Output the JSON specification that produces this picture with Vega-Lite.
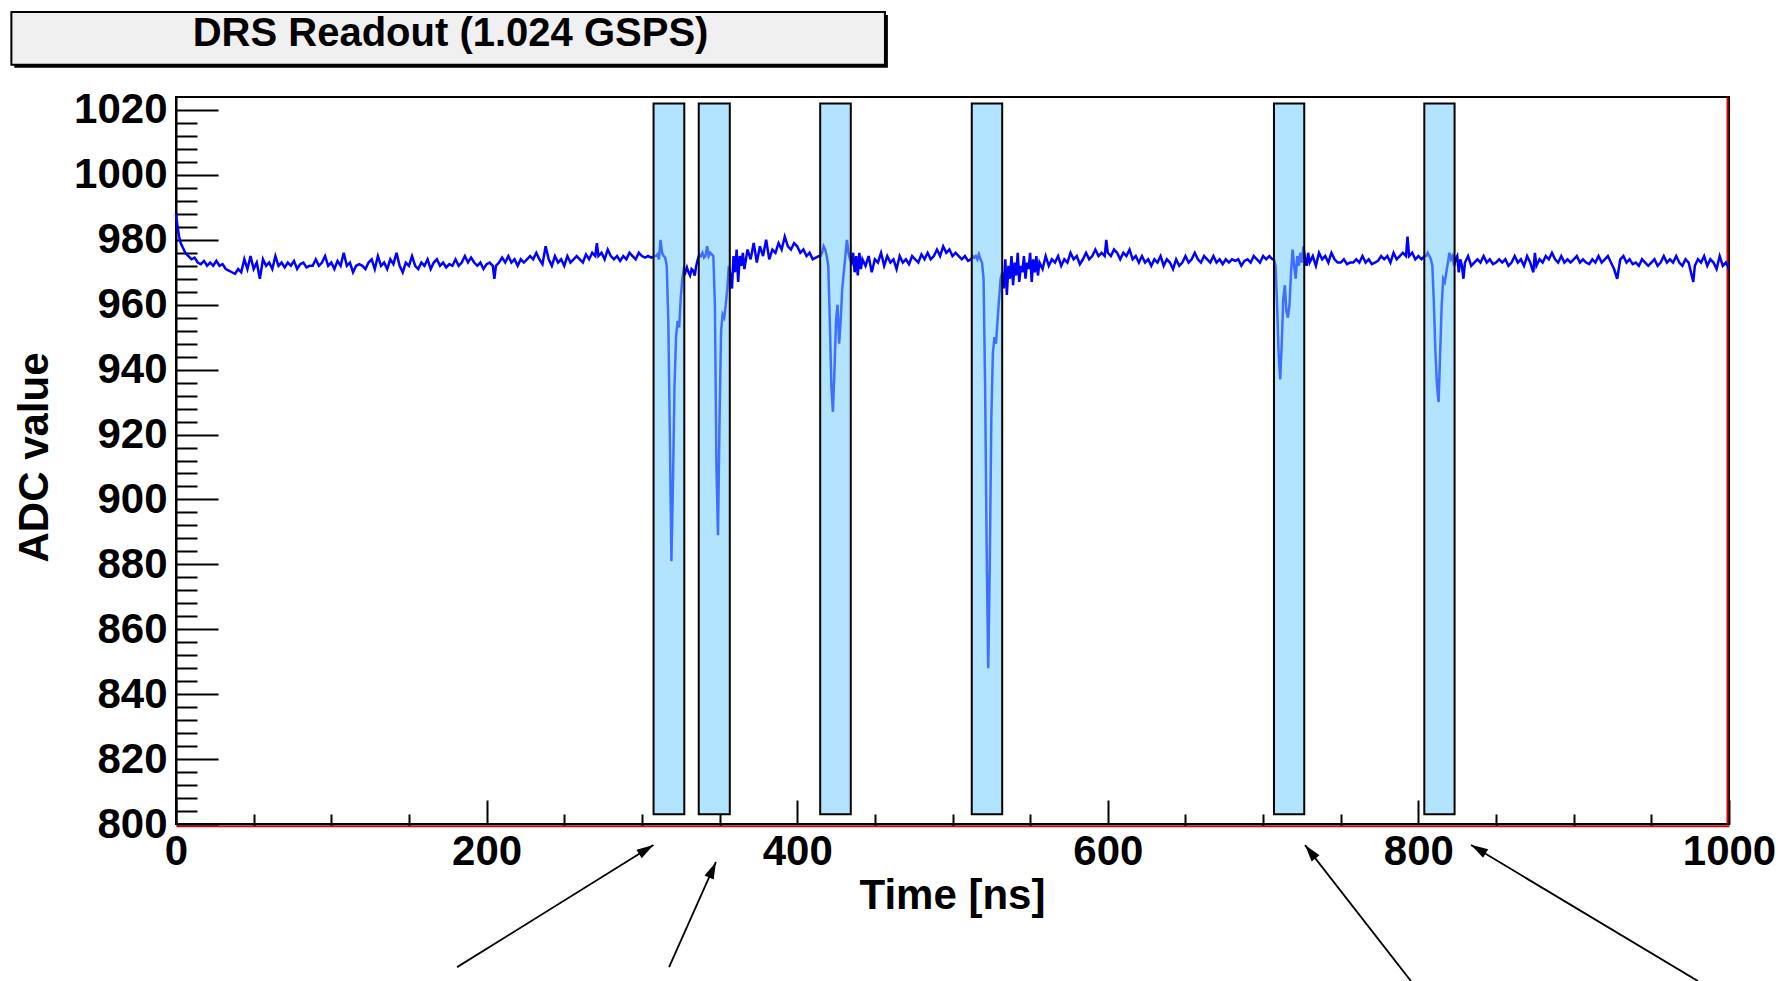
{
  "$schema": "https://vega.github.io/schema/vega-lite/v6.json",
  "autosize": {"type": "none"},
  "padding": {"left": 176, "top": 97, "right": 50, "bottom": 157},
  "width": 1553,
  "height": 727,
  "background": "white",
  "config": {
    "view": {"stroke": "black", "strokeWidth": 2},
    "axis": {"grid": false, "labelFont": "Liberation Sans", "titleFont": "Liberation Sans", "labelColor": "black", "titleColor": "black", "tickColor": "black", "domainColor": "black", "zindex": 1}
  },
  "resolve": {"axis": {"x": "independent", "y": "independent"}},
  "layer": [
    {
      "data": {"values": [{"box": "title"}]},
      "mark": {"type": "rect", "fill": "black"},
      "encoding": {
        "x": {"datum": -104.1, "type": "quantitative", "scale": {"domain": [0, 1000], "nice": false, "zero": false}, "axis": null},
        "x2": {"datum": 458.4},
        "y": {"datum": 1033.0, "type": "quantitative", "scale": {"domain": [800, 1024], "nice": false, "zero": false}, "axis": null},
        "y2": {"datum": 1049.3}
      }
    },
    {
      "data": {"values": [{"box": "title"}]},
      "mark": {"type": "rect", "fill": "#f0f0f0", "stroke": "black", "strokeWidth": 2},
      "encoding": {
        "x": {"datum": -106, "type": "quantitative", "scale": {"domain": [0, 1000], "nice": false, "zero": false}, "axis": null},
        "x2": {"datum": 456.5},
        "y": {"datum": 1033.9, "type": "quantitative", "scale": {"domain": [800, 1024], "nice": false, "zero": false}, "axis": null},
        "y2": {"datum": 1050.2}
      }
    },
    {
      "data": {"values": [{"label": "DRS Readout (1.024 GSPS)"}]},
      "mark": {"type": "text", "font": "Liberation Sans", "fontSize": 40, "fontWeight": "bold", "color": "black", "align": "center", "baseline": "alphabetic"},
      "encoding": {
        "text": {"field": "label", "type": "nominal"},
        "x": {"datum": 176.8, "type": "quantitative", "scale": {"domain": [0, 1000], "nice": false, "zero": false}, "axis": null},
        "y": {"datum": 1039.8, "type": "quantitative", "scale": {"domain": [800, 1024], "nice": false, "zero": false}, "axis": null}
      }
    },
    {
      "data": {"values": [
{"t":0,"v":988},{"t":1,"v":984},{"t":2,"v":981},{"t":3,"v":979},{"t":4,"v":978},{"t":5,"v":977},{"t":6,"v":976},{"t":8,"v":975},{"t":10,"v":974},{"t":12,"v":974.5},{"t":14,"v":973},{"t":16,"v":972.5},{"t":18,"v":973.5},{"t":20,"v":972},{"t":22,"v":973},{"t":24,"v":972},{"t":26,"v":973.5},{"t":28,"v":972},{"t":30,"v":972.5},{"t":32,"v":971},{"t":34,"v":970.5},{"t":36,"v":970},{"t":38,"v":969.5},{"t":40,"v":971},{"t":42,"v":970},{"t":44,"v":974},{"t":46,"v":971},{"t":48,"v":975},{"t":50,"v":971},{"t":52,"v":973},{"t":54,"v":968},{"t":56,"v":974},{"t":58,"v":972},{"t":60,"v":973},{"t":62,"v":971},{"t":64,"v":975},{"t":66,"v":972},{"t":68,"v":973},{"t":70,"v":971.5},{"t":72,"v":973},{"t":74,"v":972},{"t":76,"v":973.5},{"t":78,"v":971},{"t":80,"v":972.5},{"t":82,"v":973},{"t":84,"v":971.5},{"t":86,"v":972},{"t":88,"v":972},{"t":90,"v":974},{"t":92,"v":972},{"t":94,"v":973},{"t":96,"v":975},{"t":98,"v":972},{"t":100,"v":973},{"t":102,"v":971},{"t":104,"v":973.5},{"t":106,"v":972},{"t":108,"v":976},{"t":110,"v":972},{"t":112,"v":973},{"t":114,"v":970},{"t":116,"v":972},{"t":118,"v":972.5},{"t":120,"v":972},{"t":122,"v":971},{"t":124,"v":973},{"t":126,"v":974},{"t":128,"v":971},{"t":130,"v":975},{"t":132,"v":972},{"t":134,"v":973},{"t":136,"v":971},{"t":138,"v":974},{"t":140,"v":972.5},{"t":142,"v":976},{"t":144,"v":972},{"t":146,"v":970},{"t":148,"v":973},{"t":150,"v":972},{"t":152,"v":975},{"t":154,"v":972},{"t":156,"v":971},{"t":158,"v":973},{"t":160,"v":972},{"t":162,"v":974},{"t":164,"v":971},{"t":166,"v":973},{"t":168,"v":974},{"t":170,"v":972},{"t":172,"v":973},{"t":174,"v":971.5},{"t":176,"v":972.5},{"t":178,"v":972},{"t":180,"v":974},{"t":182,"v":972},{"t":184,"v":973},{"t":186,"v":975},{"t":188,"v":973},{"t":190,"v":974.5},{"t":192,"v":973},{"t":194,"v":972},{"t":196,"v":973},{"t":198,"v":971},{"t":200,"v":972.5},{"t":202,"v":973},{"t":204,"v":972},{"t":205,"v":968},{"t":206,"v":972},{"t":208,"v":973},{"t":210,"v":974.5},{"t":212,"v":973},{"t":214,"v":975},{"t":216,"v":973},{"t":218,"v":974},{"t":220,"v":972},{"t":222,"v":974},{"t":224,"v":973},{"t":226,"v":974},{"t":228,"v":975},{"t":230,"v":974},{"t":232,"v":976},{"t":234,"v":974},{"t":236,"v":972.5},{"t":238,"v":978},{"t":240,"v":974},{"t":242,"v":972},{"t":244,"v":975},{"t":246,"v":973},{"t":248,"v":974},{"t":250,"v":972},{"t":252,"v":975},{"t":254,"v":973},{"t":256,"v":974},{"t":258,"v":975},{"t":260,"v":974},{"t":262,"v":973},{"t":264,"v":975.5},{"t":266,"v":974},{"t":268,"v":976},{"t":270,"v":975},{"t":271,"v":979},{"t":272,"v":975},{"t":274,"v":976},{"t":276,"v":974},{"t":278,"v":977},{"t":280,"v":975},{"t":282,"v":974},{"t":284,"v":975},{"t":286,"v":973.5},{"t":288,"v":975},{"t":290,"v":974},{"t":292,"v":976},{"t":294,"v":975},{"t":296,"v":974},{"t":298,"v":976},{"t":300,"v":975},{"t":302,"v":974.5},{"t":304,"v":975},{"t":306,"v":974.5},{"t":308,"v":975},
{"t":309,"v":975},{"t":310,"v":975.5},{"t":311,"v":974},{"t":312,"v":980},{"t":313,"v":976},{"t":314,"v":975},{"t":315,"v":974.5},{"t":316,"v":972},{"t":317,"v":955},{"t":318,"v":920},{"t":319,"v":881},{"t":320,"v":905},{"t":321,"v":935},{"t":322,"v":950},{"t":323,"v":955},{"t":324,"v":953},{"t":325,"v":962},{"t":326,"v":968},{"t":327,"v":971},{"t":328,"v":970},{"t":329,"v":971.5},{"t":330,"v":970},{"t":331,"v":969},{"t":332,"v":971},{"t":333,"v":970.5},{"t":334,"v":969},{"t":335,"v":972},{"t":336,"v":974},{"t":337,"v":975.5},{"t":338,"v":975},{"t":339,"v":976},{"t":340,"v":974.5},{"t":341,"v":975},{"t":342,"v":978},{"t":343,"v":975},{"t":344,"v":976},{"t":345,"v":975.5},{"t":346,"v":975},{"t":347,"v":960},{"t":348,"v":910},{"t":349,"v":889},{"t":350,"v":925},{"t":351,"v":952},{"t":352,"v":957},{"t":353,"v":956},{"t":354,"v":960},{"t":355,"v":965},{"t":356,"v":972},{"t":357,"v":969},{"t":358,"v":965},{"t":359,"v":975},{"t":360,"v":970},{"t":361,"v":977},{"t":362,"v":967},{"t":363,"v":975},{"t":364,"v":972},{"t":365,"v":976},{"t":366,"v":971},{"t":368,"v":977},{"t":370,"v":974},{"t":372,"v":979},{"t":374,"v":973},{"t":376,"v":978},{"t":378,"v":975},{"t":380,"v":980},{"t":382,"v":974},{"t":384,"v":977},{"t":386,"v":976},{"t":388,"v":979},{"t":390,"v":977},{"t":392,"v":981},{"t":394,"v":978},{"t":396,"v":977},{"t":398,"v":979},{"t":400,"v":978},{"t":402,"v":976},{"t":404,"v":977},{"t":406,"v":975},{"t":408,"v":976},{"t":410,"v":974},{"t":412,"v":974.5},{"t":414,"v":975},
{"t":415,"v":975},{"t":416,"v":976},{"t":417,"v":978},{"t":418,"v":977},{"t":419,"v":975},{"t":420,"v":972},{"t":421,"v":955},{"t":422,"v":935},{"t":423,"v":927},{"t":424,"v":940},{"t":425,"v":955},{"t":426,"v":960},{"t":427,"v":948},{"t":428,"v":955},{"t":429,"v":965},{"t":430,"v":970},{"t":431,"v":975},{"t":432,"v":980},{"t":433,"v":976},{"t":434,"v":974},{"t":435,"v":973},{"t":436,"v":976},{"t":437,"v":970},{"t":438,"v":975},{"t":439,"v":969},{"t":440,"v":976},{"t":441,"v":971},{"t":442,"v":974},{"t":444,"v":972},{"t":446,"v":975},{"t":448,"v":970},{"t":450,"v":974},{"t":452,"v":973},{"t":454,"v":976},{"t":456,"v":972},{"t":458,"v":975},{"t":460,"v":973},{"t":462,"v":974},{"t":464,"v":971},{"t":466,"v":975},{"t":468,"v":973},{"t":470,"v":974},{"t":472,"v":972.5},{"t":474,"v":975},{"t":476,"v":974},{"t":478,"v":973},{"t":480,"v":975.5},{"t":482,"v":974},{"t":484,"v":976},{"t":486,"v":974},{"t":488,"v":975},{"t":490,"v":977},{"t":492,"v":975},{"t":494,"v":978},{"t":496,"v":976},{"t":498,"v":977},{"t":500,"v":975},{"t":502,"v":976},{"t":504,"v":975},{"t":506,"v":974},{"t":508,"v":975},{"t":510,"v":973.5},{"t":512,"v":974},
{"t":513,"v":975},{"t":514,"v":974.5},{"t":515,"v":975},{"t":516,"v":974},{"t":517,"v":975.5},{"t":518,"v":974},{"t":519,"v":973},{"t":520,"v":968},{"t":521,"v":935},{"t":522,"v":885},{"t":523,"v":848},{"t":524,"v":880},{"t":525,"v":925},{"t":526,"v":945},{"t":527,"v":950},{"t":528,"v":948},{"t":529,"v":955},{"t":530,"v":962},{"t":531,"v":968},{"t":532,"v":970},{"t":533,"v":965},{"t":534,"v":974},{"t":535,"v":963},{"t":536,"v":972},{"t":537,"v":968},{"t":538,"v":975},{"t":539,"v":966},{"t":540,"v":973},{"t":541,"v":969},{"t":542,"v":976},{"t":543,"v":967},{"t":544,"v":972},{"t":545,"v":970},{"t":546,"v":975},{"t":547,"v":968},{"t":548,"v":973},{"t":549,"v":971},{"t":550,"v":976},{"t":551,"v":967},{"t":552,"v":974},{"t":553,"v":970},{"t":554,"v":975},{"t":555,"v":969},{"t":556,"v":973},{"t":558,"v":971},{"t":560,"v":975},{"t":562,"v":972},{"t":564,"v":974},{"t":566,"v":973},{"t":568,"v":975},{"t":570,"v":972},{"t":572,"v":974},{"t":574,"v":973},{"t":576,"v":976},{"t":578,"v":974},{"t":580,"v":975},{"t":582,"v":972.5},{"t":584,"v":974},{"t":586,"v":976},{"t":588,"v":974},{"t":590,"v":975},{"t":592,"v":977},{"t":594,"v":975},{"t":596,"v":976},{"t":598,"v":975},{"t":599,"v":980},{"t":600,"v":976},{"t":602,"v":975},{"t":604,"v":977},{"t":606,"v":976},{"t":608,"v":974},{"t":610,"v":976},{"t":612,"v":975},{"t":614,"v":977},{"t":616,"v":974},{"t":618,"v":975},{"t":620,"v":973},{"t":622,"v":975},{"t":624,"v":973},{"t":626,"v":974},{"t":628,"v":972},{"t":630,"v":974},{"t":632,"v":973},{"t":634,"v":975},{"t":636,"v":972},{"t":638,"v":974},{"t":640,"v":973},{"t":642,"v":971},{"t":644,"v":974},{"t":646,"v":972},{"t":648,"v":973},{"t":650,"v":975},{"t":652,"v":973},{"t":654,"v":974},{"t":656,"v":976},{"t":658,"v":974},{"t":660,"v":973},{"t":662,"v":975},{"t":664,"v":974},{"t":666,"v":973},{"t":668,"v":975},{"t":670,"v":973},{"t":672,"v":974},{"t":674,"v":972.5},{"t":676,"v":974},{"t":678,"v":973},{"t":680,"v":974},{"t":682,"v":973.5},{"t":684,"v":974},{"t":686,"v":972},{"t":688,"v":973.5},{"t":690,"v":974},{"t":692,"v":973},{"t":694,"v":975},{"t":696,"v":974},{"t":698,"v":973},{"t":700,"v":975},{"t":702,"v":974},{"t":704,"v":975},{"t":706,"v":974},
{"t":707,"v":974},{"t":708,"v":972},{"t":709,"v":960},{"t":710,"v":945},{"t":711,"v":937},{"t":712,"v":948},{"t":713,"v":962},{"t":714,"v":966},{"t":715,"v":958},{"t":716,"v":956},{"t":717,"v":960},{"t":718,"v":970},{"t":719,"v":977},{"t":720,"v":972},{"t":721,"v":968},{"t":722,"v":975},{"t":723,"v":972},{"t":724,"v":976},{"t":725,"v":973},{"t":726,"v":978},{"t":727,"v":974},{"t":728,"v":972},{"t":729,"v":976},{"t":730,"v":973},{"t":732,"v":975},{"t":734,"v":972},{"t":736,"v":976},{"t":738,"v":974},{"t":740,"v":975},{"t":742,"v":973},{"t":744,"v":976},{"t":746,"v":974},{"t":748,"v":973},{"t":750,"v":973},{"t":752,"v":974},{"t":754,"v":972.5},{"t":756,"v":973},{"t":758,"v":973},{"t":760,"v":974},{"t":762,"v":973},{"t":764,"v":975},{"t":766,"v":973},{"t":768,"v":974},{"t":770,"v":972.5},{"t":772,"v":973},{"t":774,"v":973.5},{"t":776,"v":975},{"t":778,"v":974},{"t":780,"v":975},{"t":782,"v":973},{"t":784,"v":976},{"t":786,"v":974},{"t":788,"v":975},{"t":790,"v":976},{"t":792,"v":975},{"t":793,"v":981},{"t":794,"v":975},{"t":796,"v":976},{"t":798,"v":974},{"t":800,"v":975},{"t":802,"v":974},{"t":804,"v":975},
{"t":805,"v":975},{"t":806,"v":976},{"t":807,"v":975},{"t":808,"v":974},{"t":809,"v":972},{"t":810,"v":960},{"t":811,"v":945},{"t":812,"v":935},{"t":813,"v":930},{"t":814,"v":945},{"t":815,"v":960},{"t":816,"v":968},{"t":817,"v":967},{"t":818,"v":970},{"t":819,"v":973},{"t":820,"v":976},{"t":821,"v":974},{"t":822,"v":975},{"t":823,"v":972},{"t":824,"v":974},{"t":825,"v":975},{"t":826,"v":970},{"t":827,"v":974},{"t":828,"v":972},{"t":829,"v":968},{"t":830,"v":973},{"t":832,"v":975},{"t":834,"v":972},{"t":836,"v":973},{"t":838,"v":974},{"t":840,"v":973},{"t":842,"v":975},{"t":844,"v":973},{"t":846,"v":974},{"t":848,"v":972.5},{"t":850,"v":973},{"t":852,"v":974},{"t":854,"v":973},{"t":856,"v":974},{"t":858,"v":972},{"t":860,"v":973},{"t":862,"v":975},{"t":864,"v":973},{"t":866,"v":974},{"t":868,"v":972},{"t":870,"v":975},{"t":872,"v":973},{"t":874,"v":970},{"t":875,"v":976},{"t":876,"v":972},{"t":878,"v":974},{"t":880,"v":973},{"t":882,"v":975},{"t":884,"v":974},{"t":886,"v":976},{"t":888,"v":974},{"t":890,"v":973},{"t":892,"v":975},{"t":894,"v":973},{"t":896,"v":974},{"t":898,"v":973},{"t":900,"v":974},{"t":902,"v":975},{"t":904,"v":973},{"t":906,"v":974},{"t":908,"v":973},{"t":910,"v":972.5},{"t":912,"v":974},{"t":914,"v":973},{"t":916,"v":975},{"t":918,"v":973},{"t":920,"v":974},{"t":922,"v":975},{"t":924,"v":973},{"t":926,"v":971},{"t":928,"v":968},{"t":930,"v":974},{"t":932,"v":975},{"t":934,"v":973},{"t":936,"v":974},{"t":938,"v":972.5},{"t":940,"v":973},{"t":942,"v":972},{"t":944,"v":974},{"t":946,"v":973},{"t":948,"v":972},{"t":950,"v":973},{"t":952,"v":974},{"t":954,"v":972},{"t":956,"v":973},{"t":958,"v":975},{"t":960,"v":973},{"t":962,"v":974},{"t":964,"v":973},{"t":966,"v":975},{"t":968,"v":973},{"t":970,"v":972},{"t":972,"v":974},{"t":974,"v":973},{"t":976,"v":969},{"t":977,"v":967},{"t":978,"v":972},{"t":980,"v":974},{"t":982,"v":973},{"t":984,"v":975},{"t":986,"v":972},{"t":988,"v":974},{"t":990,"v":973},{"t":992,"v":971},{"t":994,"v":975},{"t":996,"v":972},{"t":998,"v":973},{"t":1000,"v":971}
      ]},
      "mark": {"type": "line", "color": "#0000ff", "strokeWidth": 2.5, "interpolate": "linear"},
      "encoding": {
        "x": {"field": "t", "type": "quantitative", "scale": {"domain": [0, 1000], "nice": false, "zero": false},
          "axis": {"orient": "bottom", "values": [0, 200, 400, 600, 800, 1000], "format": "d", "tickSize": -24, "tickWidth": 2, "domainWidth": 2, "labelFontSize": 42, "labelFontWeight": "bold", "labelPadding": 31, "labelFlush": false, "labelOverlap": false, "title": "Time [ns]", "titleFontSize": 42, "titleFontWeight": "bold", "titleX": 776, "titleY": 84, "titleBaseline": "alphabetic", "titleAlign": "center"}},
        "y": {"field": "v", "type": "quantitative", "scale": {"domain": [800, 1024], "nice": false, "zero": false},
          "axis": {"orient": "left", "values": [800, 820, 840, 860, 880, 900, 920, 940, 960, 980, 1000, 1020], "format": "d", "tickSize": -42, "tickWidth": 2, "domainWidth": 2, "labelFontSize": 42, "labelFontWeight": "bold", "labelPadding": 51, "labelFlush": false, "labelOverlap": false, "title": "ADC value", "titleFontSize": 42, "titleFontWeight": "bold", "titleX": -129, "titleY": 360, "titleBaseline": "alphabetic", "titleAlign": "center", "titleAngle": -90}}
      }
    },
    {
      "data": {"values": [
        {"start": 307.5, "end": 327.3},
        {"start": 336.6, "end": 356.6},
        {"start": 414.8, "end": 434.5},
        {"start": 512.4, "end": 532.0},
        {"start": 707.0, "end": 726.5},
        {"start": 803.8, "end": 823.3}
      ]},
      "mark": {"type": "rect", "fill": "#72cdff", "fillOpacity": 0.54, "stroke": "black", "strokeWidth": 2, "strokeOpacity": 1},
      "encoding": {
        "x": {"field": "start", "type": "quantitative", "scale": {"domain": [0, 1000], "nice": false, "zero": false},
          "axis": {"orient": "bottom", "values": [50, 100, 150, 250, 300, 350, 450, 500, 550, 650, 700, 750, 850, 900, 950], "tickSize": -12, "tickWidth": 2, "labels": false, "domain": true, "domainColor": "#e00000", "domainWidth": 1.5, "offset": 2, "title": null}},
        "x2": {"field": "end"},
        "y": {"datum": 803, "type": "quantitative", "scale": {"domain": [800, 1024], "nice": false, "zero": false},
          "axis": {"orient": "left", "values": [804, 808, 812, 816, 824, 828, 832, 836, 844, 848, 852, 856, 864, 868, 872, 876, 884, 888, 892, 896, 904, 908, 912, 916, 924, 928, 932, 936, 944, 948, 952, 956, 964, 968, 972, 976, 984, 988, 992, 996, 1004, 1008, 1012, 1016], "tickSize": -21, "tickWidth": 2, "labels": false, "domain": false, "title": null}},
        "y2": {"datum": 1022}
      }
    },
    {
      "data": {"name": "arrows", "values": [
        {"x0": 181.0, "y0": 755.9, "x1": 307.4, "y1": 793.5, "hx": 302.0, "hy": 791.9, "dir": 58},
        {"x0": 317.5, "y0": 755.9, "x1": 347.7, "y1": 788.3, "hx": 345.1, "hy": 785.5, "dir": 24},
        {"x0": 795.2, "y0": 751.6, "x1": 727.0, "y1": 793.5, "hx": 731.0, "hy": 791.1, "dir": 322},
        {"x0": 980.0, "y0": 751.6, "x1": 833.9, "y1": 793.5, "hx": 839.4, "hy": 792.0, "dir": 301}
      ]},
      "mark": {"type": "rule", "color": "black", "strokeWidth": 1.8},
      "encoding": {
        "x": {"field": "x0", "type": "quantitative", "scale": {"domain": [0, 1000], "nice": false, "zero": false}, "axis": null},
        "x2": {"field": "x1"},
        "y": {"field": "y0", "type": "quantitative", "scale": {"domain": [800, 1024], "nice": false, "zero": false},
          "axis": {"orient": "right", "domainColor": "#e00000", "domainWidth": 2, "offset": -2, "ticks": false, "labels": false, "title": null}},
        "y2": {"field": "y1"}
      }
    },
    {
      "data": {"name": "arrows"},
      "mark": {"type": "point", "shape": "M0,-1L0.5,0.7L-0.5,0.7Z", "filled": true, "color": "black", "size": 400, "opacity": 1},
      "encoding": {
        "x": {"field": "hx", "type": "quantitative", "scale": {"domain": [0, 1000], "nice": false, "zero": false}, "axis": null},
        "y": {"field": "hy", "type": "quantitative", "scale": {"domain": [800, 1024], "nice": false, "zero": false}, "axis": null},
        "angle": {"field": "dir", "type": "quantitative", "scale": null}
      }
    }
  ]
}
